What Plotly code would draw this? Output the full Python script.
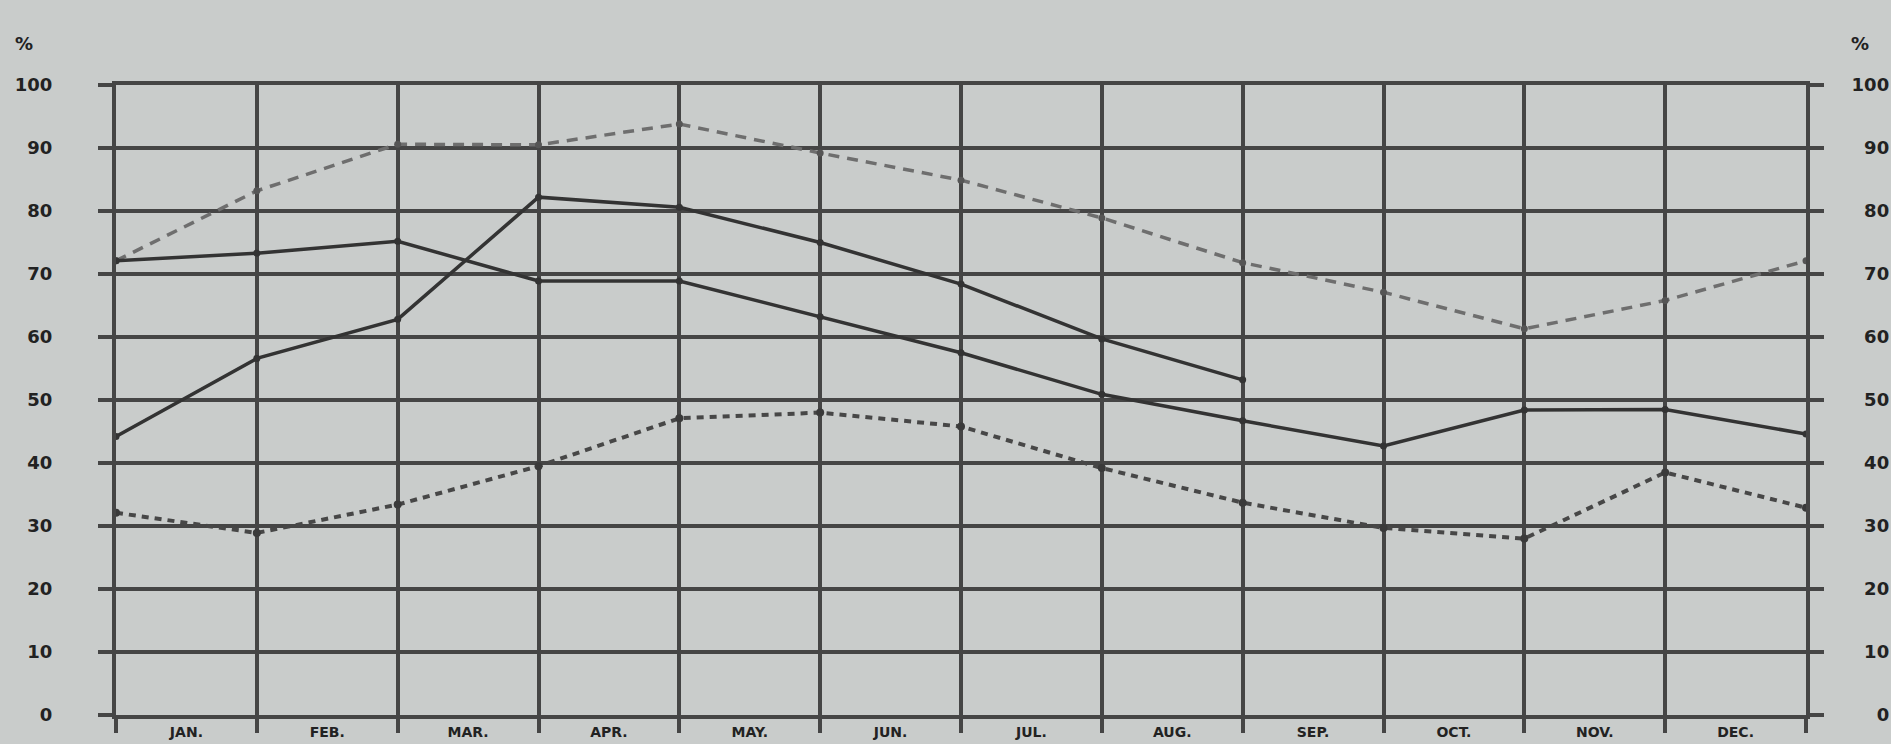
import plotly.graph_objects as go

# ---- data ----
x_points = list(range(13))
months = ["JAN.", "FEB.", "MAR.", "APR.", "MAY.", "JUN.", "JUL.", "AUG.", "SEP.", "OCT.", "NOV.", "DEC."]
month_pos = [i + 0.5 for i in range(12)]

series_a = [72.1, 83.2, 90.6, 90.5, 93.8, 89.2, 84.9, 78.9, 71.8, 67.1, 61.3, 65.8, 72.1]   # light dashed
series_b = [72.1, 73.3, 75.2, 68.9, 68.9, 63.2, 57.5, 50.9, 46.7, 42.7, 48.4, 48.5, 44.6]   # solid
series_c = [44.2, 56.6, 62.8, 82.2, 80.6, 75.0, 68.4, 59.7, 53.2]                           # solid (ends early)
series_d = [32.1, 28.9, 33.4, 39.5, 47.1, 48.0, 45.8, 39.2, 33.7, 29.7, 28.0, 38.5, 32.9]   # dark dashed

y_ticks = list(range(0, 101, 10))
y_left_text = [str(v) for v in y_ticks]
y_right_text = [("\u2007" * (3 - len(str(v)))) + str(v) for v in y_ticks]

BG = "#c9cccb"
GRID = "#454545"
INK = "#333333"
FONT = dict(family="DejaVu Sans", size=18, color="#222222", weight="bold")
XFONT = dict(family="DejaVu Sans", size=14, color="#222222", weight="bold")

fig = go.Figure()

fig.add_trace(go.Scatter(x=x_points, y=series_a, mode="lines+markers",
                         line=dict(color="#6e6e6e", width=3.5, dash="11px,8px"),
                         marker=dict(size=7, color="#555555"), hoverinfo="skip"))
fig.add_trace(go.Scatter(x=x_points, y=series_b, mode="lines+markers",
                         line=dict(color=INK, width=3.5),
                         marker=dict(size=7, color=INK), hoverinfo="skip"))
fig.add_trace(go.Scatter(x=x_points[:len(series_c)], y=series_c, mode="lines+markers",
                         line=dict(color=INK, width=3.5),
                         marker=dict(size=7, color=INK), hoverinfo="skip"))
fig.add_trace(go.Scatter(x=x_points, y=series_d, mode="lines+markers",
                         line=dict(color="#474747", width=4, dash="7px,6px"),
                         marker=dict(size=8, color="#3a3a3a"), hoverinfo="skip"))
# invisible trace to carry the right-hand axis
fig.add_trace(go.Scatter(x=[0, 12], y=[0, 100], yaxis="y2", mode="markers",
                         marker=dict(opacity=0), hoverinfo="skip", showlegend=False))

W, H = 1891, 744
ML, MR, MT, MB = 116, 85, 85, 29
pw = W - ML - MR
ph = H - MT - MB


def px_x(x):
    return (x - ML) / pw


def px_y(y):
    return (H - MB - y) / ph


fig.update_layout(
    width=W, height=H,
    paper_bgcolor=BG, plot_bgcolor=BG,
    showlegend=False,
    margin=dict(l=ML, r=MR, t=MT, b=MB, autoexpand=False),
    xaxis=dict(
        range=[0, 12], tickmode="array", tickvals=month_pos, ticktext=months,
        ticks="", showgrid=False, zeroline=False, automargin=False,
        showline=True, linecolor=GRID, linewidth=4, mirror=True,
        tickfont=XFONT, ticklabelstandoff=1,
        minor=dict(tickmode="array", tickvals=x_points, ticks="outside", ticklen=14,
                   tickwidth=4, tickcolor=GRID, showgrid=True, gridcolor=GRID, gridwidth=4),
    ),
    yaxis=dict(
        range=[0, 100], tickmode="array", tickvals=y_ticks, ticktext=y_left_text,
        ticks="outside", ticklen=14, tickwidth=4, tickcolor=GRID, automargin=False,
        showgrid=True, gridcolor=GRID, gridwidth=4, zeroline=False,
        showline=True, linecolor=GRID, linewidth=4,
        tickfont=FONT, ticklabelstandoff=42,
    ),
    yaxis2=dict(
        range=[0, 100], overlaying="y", side="right", tickmode="array",
        tickvals=y_ticks, ticktext=y_right_text, automargin=False,
        ticks="outside", ticklen=14, tickwidth=4, tickcolor=GRID,
        showgrid=False, zeroline=False,
        showline=True, linecolor=GRID, linewidth=4,
        tickfont=FONT, ticklabelstandoff=24,
    ),
    annotations=[
        dict(text="%", x=px_x(24), y=px_y(43), xref="paper", yref="paper",
             xanchor="center", yanchor="middle", showarrow=False, font=FONT),
        dict(text="%", x=px_x(1860), y=px_y(43), xref="paper", yref="paper",
             xanchor="center", yanchor="middle", showarrow=False, font=FONT),
    ],
)

fig.write_html("out.html", config={"displayModeBar": False},
               post_script="document.body.style.margin='0';document.body.style.overflow='hidden';")
